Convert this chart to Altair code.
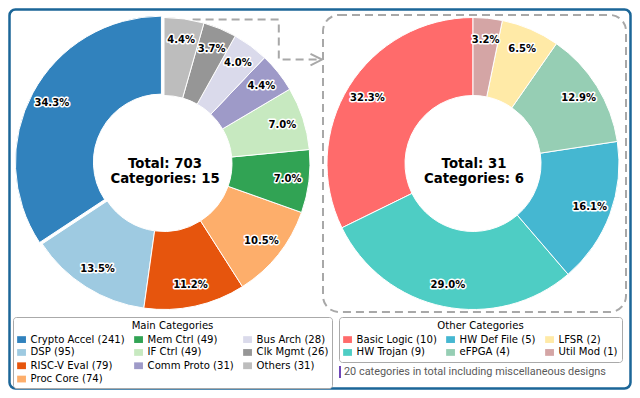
import math
import altair as alt
import pandas as pd

# ---------------- data ----------------
main_names = ["Crypto Accel", "DSP", "RISC-V Eval", "Proc Core", "Mem Ctrl",
              "IF Ctrl", "Comm Proto", "Bus Arch", "Clk Mgmt", "Others"]
main_counts = [241, 95, 79, 74, 49, 49, 31, 28, 26, 31]
main_colors = ["#3182bd", "#9ecae1", "#e6550d", "#fdae6b", "#31a354",
               "#c7e9c0", "#9e9ac8", "#dadaeb", "#969696", "#bdbdbd"]
main_explode = [0.02, 0, 0, 0, 0, 0, 0, 0, 0, 0]

other_names = ["Basic Logic", "HW Trojan", "HW Def File", "eFPGA", "LFSR", "Util Mod"]
other_counts = [10, 9, 5, 4, 2, 1]
other_colors = ["#ff6b6b", "#4ecdc4", "#45b7d1", "#96ceb4", "#ffeaa7", "#d4a5a5"]
other_explode = [0, 0, 0, 0, 0, 0]

center_main = "Total: 703\nCategories: 15"
center_other = "Total: 31\nCategories: 6"
legend_titles = ["Main Categories", "Other Categories"]
note_text = "20 categories in total including miscellaneous designs"

# ---------------- layout / style ----------------
W, H = 624, 382
R_OUT, R_IN, R_LAB = 146, 68, 124.5
LEFT_C = (156, 155.5)
RIGHT_C = (465, 155.5)
FONT = "DejaVu Sans"
SYM = "M-1.3,-1L1.3,-1L1.3,1L-1.3,1Z"
LEG_FS = 10.1


def legend_order(items, ncol=3):
    """matplotlib fills legend columns first; return the same entries row by row."""
    n = len(items)
    base, extra = divmod(n, ncol)
    cols, k = [], 0
    for c in range(ncol):
        m = base + (1 if c < extra else 0)
        cols.append(items[k:k + m])
        k += m
    out = []
    for r in range(max(len(c) for c in cols)):
        for c in cols:
            if r < len(c):
                out.append(c[r])
    return out


def make_df(names, counts, explode):
    return pd.DataFrame({
        "name": names,
        "count": counts,
        "idx": list(range(len(names))),
        "explode": explode,
        "label": [f"{n} ({c})" for n, c in zip(names, counts)],
    })


def donut(names, counts, colors, explode, pos, center_text, title, lx, ly):
    df = make_df(names, counts, explode)
    cx, cy = pos
    base = (
        alt.Chart(df)
        .transform_joinaggregate(total="sum(count)")
        .transform_window(cum="sum(count)", sort=[alt.SortField("idx")], frame=[None, 0])
        .transform_calculate(t1="2*PI*(1 - datum.cum/datum.total)")
        .transform_calculate(t2="2*PI*(1 - (datum.cum - datum.count)/datum.total)")
        .transform_calculate(tm="(datum.t1 + datum.t2)/2")
        .transform_calculate(pct="format(100*datum.count/datum.total, '.1f') + '%'")
        .transform_calculate(cx=f"{cx} + datum.explode*{R_OUT}*sin(datum.tm)")
        .transform_calculate(cy=f"{cy} - datum.explode*{R_OUT}*cos(datum.tm)")
        .transform_calculate(lx=f"datum.cx + {R_LAB}*sin(datum.tm)")
        .transform_calculate(ly=f"datum.cy - {R_LAB}*cos(datum.tm)")
    )
    labels = [f"{n} ({c})" for n, c in zip(names, counts)]
    dom = legend_order(labels)
    rng = [colors[labels.index(l)] for l in dom]
    arcs = base.mark_arc(outerRadius=R_OUT, innerRadius=R_IN, stroke="white", strokeWidth=1).encode(
        theta=alt.Theta("t1:Q", scale=None, stack=None),
        theta2="t2:Q",
        x=alt.X("cx:Q", scale=None, axis=None),
        y=alt.Y("cy:Q", scale=None, axis=None),
        color=alt.Color(
            "label:N",
            scale=alt.Scale(domain=dom, range=rng),
            legend=alt.Legend(
                title=title, orient="none", legendX=lx, legendY=ly, columns=3,
                direction="horizontal",
                symbolType=SYM, symbolSize=46, symbolStrokeWidth=0, symbolOpacity=1,
                labelFont=FONT, labelFontSize=LEG_FS, labelColor="black", labelOffset=4,
                titleFont=FONT, titleFontSize=LEG_FS, titleFontWeight="normal",
                titleColor="black", titleAnchor="middle", titlePadding=3.5,
                padding=3.5, rowPadding=2.3, columnPadding=8,
                strokeColor="#aaaaaa", fillColor="white", cornerRadius=3,
                labelLimit=300,
            ),
        ),
    )
    enc = dict(
        x=alt.X("lx:Q", scale=None, axis=None),
        y=alt.Y("ly:Q", scale=None, axis=None),
        text="pct:N",
    )
    halo = base.mark_text(font=FONT, fontSize=10, fontWeight="bold", fill="white",
                          stroke="white", strokeWidth=3, strokeJoin="round").encode(**enc)
    lab = base.mark_text(font=FONT, fontSize=10, fontWeight="bold", color="black").encode(**enc)
    ctext = alt.Chart(pd.DataFrame({"t": [center_text]})).mark_text(
        font=FONT, fontSize=13.3, fontWeight="bold", color="black",
        lineBreak="\n", lineHeight=15.6, baseline="middle", align="center",
    ).encode(x=alt.value(cx + 1), y=alt.value(cy), text="t:N")
    return [arcs, halo, lab, ctext]


one = pd.DataFrame({"a": [0]})

border = alt.Chart(one).mark_rect(
    fill=None, fillOpacity=0, stroke="#1b6698", strokeWidth=2.5, cornerRadius=6
).encode(x=alt.value(1.5), x2=alt.value(W - 1.5), y=alt.value(1.5), y2=alt.value(H - 1.5))

dash_box = alt.Chart(one).mark_rect(
    fill=None, fillOpacity=0, stroke="#a8a8a8", strokeWidth=2, strokeDash=[8, 5], cornerRadius=16
).encode(x=alt.value(315), x2=alt.value(618), y=alt.value(7), y2=alt.value(304))

arrow_df = pd.DataFrame({"x": [184.6, 270.8, 270.8, 313.5],
                         "y": [11.6, 11.6, 51.6, 51.6],
                         "o": [0, 1, 2, 3]})
arrow = alt.Chart(arrow_df).mark_line(color="#a8a8a8", strokeWidth=2, strokeDash=[8, 5]).encode(
    x=alt.X("x:Q", scale=None, axis=None), y=alt.Y("y:Q", scale=None, axis=None), order="o:O")
head_df = pd.DataFrame({"x": [302.5, 314, 302.5], "y": [45.8, 51.6, 57.4], "o": [0, 1, 2]})
head = alt.Chart(head_df).mark_line(color="#a8a8a8", strokeWidth=2).encode(
    x=alt.X("x:Q", scale=None, axis=None), y=alt.Y("y:Q", scale=None, axis=None), order="o:O")

bar = alt.Chart(one).mark_rule(color="#7048b8", strokeWidth=2).encode(
    x=alt.value(332), y=alt.value(358), y2=alt.value(370))
note = alt.Chart(pd.DataFrame({"t": [note_text]})).mark_text(
    font="Roboto", fontSize=10.9, color="#5a5a5a", align="left", baseline="middle"
).encode(x=alt.value(336), y=alt.value(364), text="t:N")

layers = [border, dash_box, arrow, head]
layers += donut(main_names, main_counts, main_colors, main_explode, LEFT_C, center_main,
                legend_titles[0], 5, 309)
layers += donut(other_names, other_counts, other_colors, other_explode, RIGHT_C, center_other,
                legend_titles[1], 331, 309)
layers += [bar, note]

chart = (
    alt.layer(*layers)
    .resolve_scale(color="independent")
    .properties(width=W, height=H, padding=0, autosize=alt.AutoSizeParams(type="none"))
    .configure_view(stroke=None)
)

chart.save("out.html", embed_options={"renderer": "svg", "actions": False})
